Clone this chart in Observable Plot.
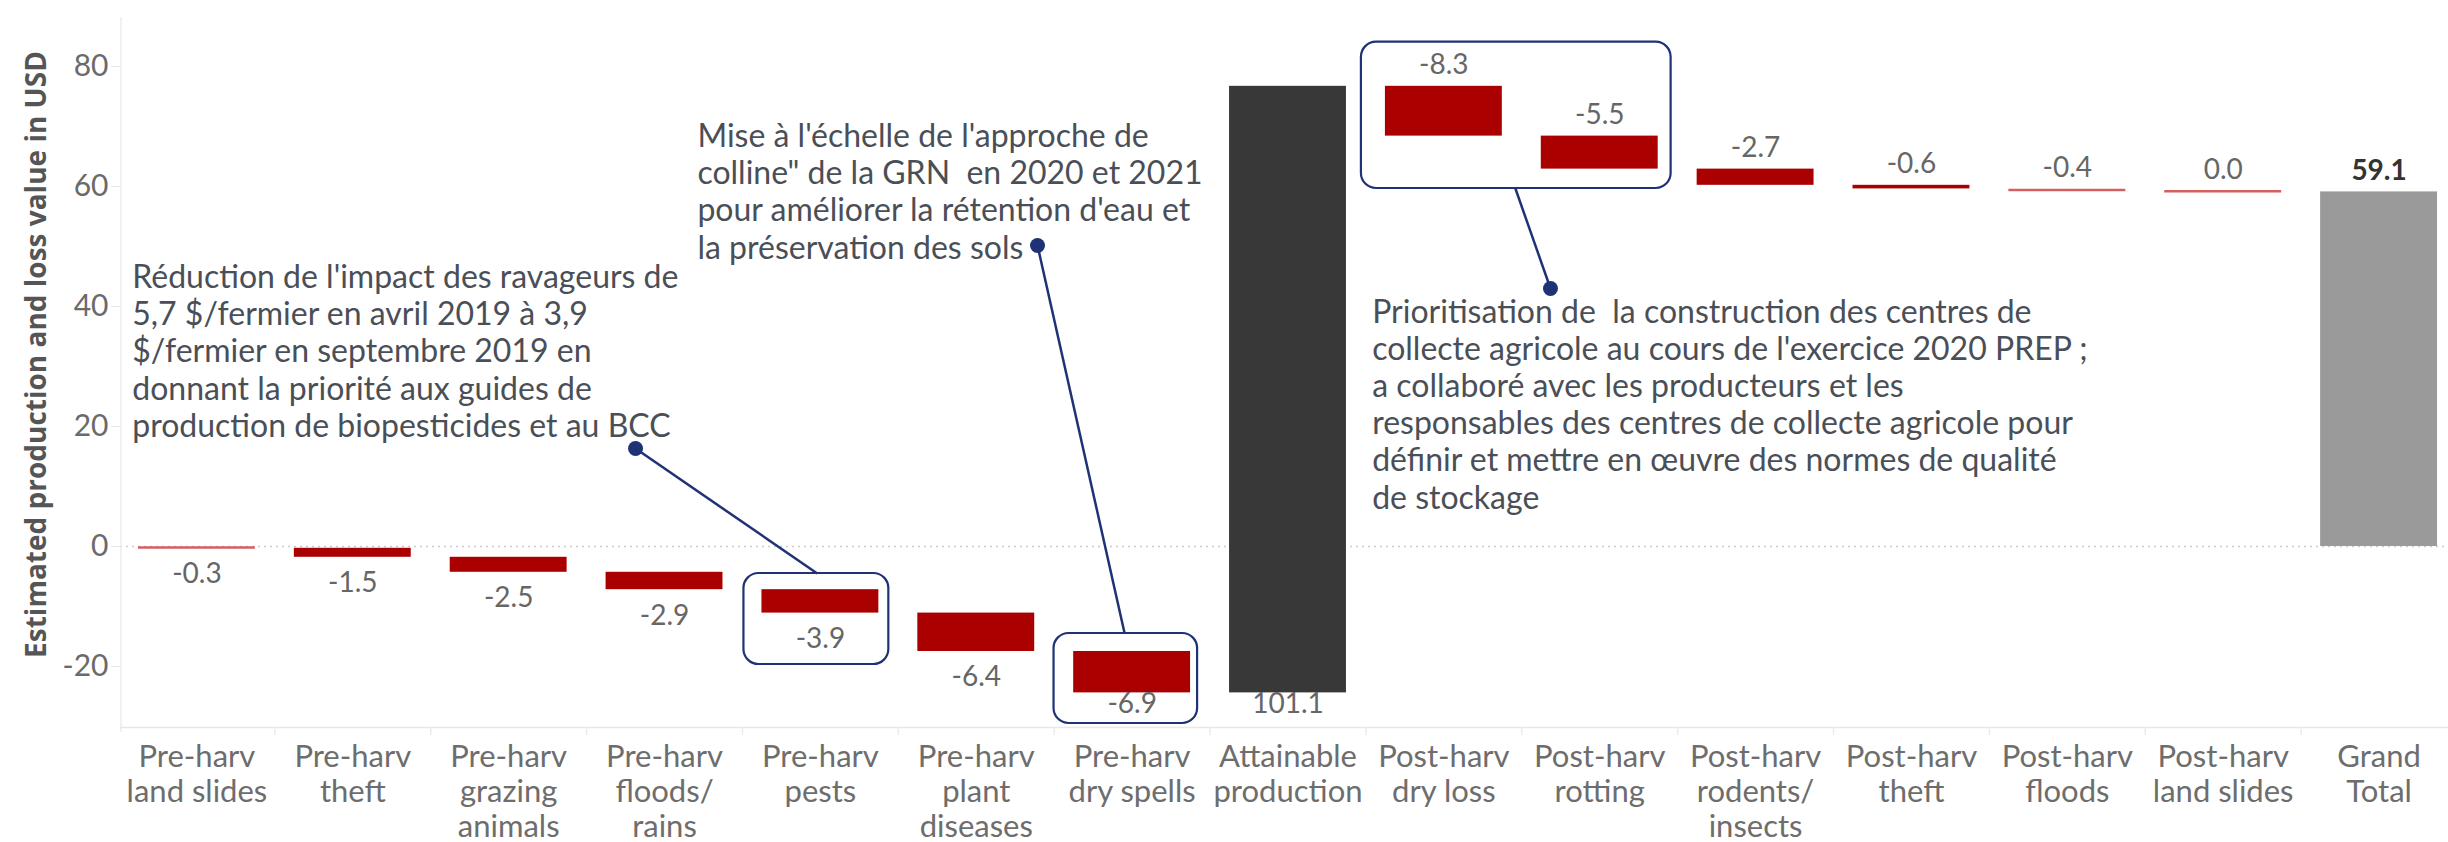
<!DOCTYPE html>
<html>
<head>
<meta charset="utf-8">
<script src="https://cdn.jsdelivr.net/npm/d3@7"></script>
<script src="https://cdn.jsdelivr.net/npm/@observablehq/plot@0.6"></script>
<style>
  html, body { margin: 0; padding: 0; background: #ffffff; }
  #chart svg { display: block; }
</style>
</head>
<body>
<div id="chart"></div>
<script>
// ---------------- data ----------------
const categories = [
  "Pre-harv\nland slides",
  "Pre-harv\ntheft",
  "Pre-harv\ngrazing\nanimals",
  "Pre-harv\nfloods/\nrains",
  "Pre-harv\npests",
  "Pre-harv\nplant\ndiseases",
  "Pre-harv\ndry spells",
  "Attainable\nproduction",
  "Post-harv\ndry loss",
  "Post-harv\nrotting",
  "Post-harv\nrodents/\ninsects",
  "Post-harv\ntheft",
  "Post-harv\nfloods",
  "Post-harv\nland slides",
  "Grand\nTotal"
];
const values = [-0.3, -1.5, -2.5, -2.9, -3.9, -6.4, -6.9, 101.1, -8.3, -5.5, -2.7, -0.6, -0.4, 0.0, 59.1];
const kinds  = ["loss","loss","loss","loss","loss","loss","loss","total","loss","loss","loss","loss","loss","loss","grand"];
const yTicks = [-20, 0, 20, 40, 60, 80];
const yTitle = "Estimated production and loss value in USD";

const noteTexts = [
  "Réduction de l'impact des ravageurs de\n5,7 $/fermier en avril 2019 à 3,9\n$/fermier en septembre 2019 en\ndonnant la priorité aux guides de\nproduction de biopesticides et au BCC",
  "Mise à l'échelle de l'approche de\ncolline\" de la GRN\u00a0 en 2020 et 2021\npour améliorer la rétention d'eau et\nla préservation des sols",
  "Prioritisation de\u00a0 la construction des centres de\ncollecte agricole au cours de l'exercice 2020 PREP ;\na collaboré avec les producteurs et les\nresponsables des centres de collecte agricole pour\ndéfinir et mettre en œuvre des normes de qualité\nde stockage"
];

// ---------------- annotation anchors (data space: x = category index, y = USD) ----------------
const noteAnchors = [[-0.415, 18.3], [3.211, 48.0], [7.54, 6.33]];
const calloutBoxes = [
  {x1: 3.5095, x2: 4.439, y1: -4.5,  y2: -19.67},
  {x1: 5.499,  x2: 6.42,  y1: -14.5, y2: -29.5},
  {x1: 7.471,  x2: 9.458, y1: 84.05, y2: 59.67}
];
const connectors = [
  {x1: 2.814, y1: 16.33, x2: 3.98,  y2: -4.5},
  {x1: 5.393, y1: 50.17, x2: 5.952, y2: -14.5},
  {x1: 8.684, y1: 43.0,  x2: 8.459, y2: 59.67}
];

// ---------------- layout / style ----------------
const W = 2448, H = 842;
const yDomain = [-30.17, 88.17];
const xRange = [118.5, 2456.5];
const half = 0.375;                 // half bar width in category units
const navy = "#1e3275";
const red = "#aa0000", redThin = "#d45f5f";
const labelGray = "#666666";
const font = "Lato, 'Open Sans', sans-serif";

// ---------------- waterfall ----------------
let run = 0;
const attIdx = kinds.indexOf("total");
const bars = categories.map((c, i) => {
  const v = values[i], k = kinds[i];
  let lo, hi;
  if (k === "grand") { lo = Math.min(0, v); hi = Math.max(0, v); }
  else { const s = run; run += v; lo = Math.min(s, run); hi = Math.max(s, run); }
  return {i, c, v, k, lo, hi, below: i <= attIdx};
});
const fmt = v => v.toFixed(1);
const seps = categories.slice(1).map((_, i) => i + 0.5);

const chart = Plot.plot({
  width: W,
  height: H,
  marginLeft: 120,
  marginRight: 0,
  marginTop: 17,
  marginBottom: 115,
  x: {type: "linear", domain: [-0.5, categories.length - 0.5], range: xRange, axis: null},
  y: {domain: yDomain, label: null},
  style: {fontFamily: font, background: "#ffffff", overflow: "visible"},
  marks: [
    // zero line
    Plot.ruleY([0], {stroke: "#cccccc", strokeWidth: 1.5, strokeDasharray: "2,4"}),
    // frame lines
    Plot.ruleX([-0.5], {dx: 2, stroke: "#ececec", strokeWidth: 1.5, insetBottom: -5}),
    Plot.ruleY([yDomain[0]], {stroke: "#e8e8e8", strokeWidth: 1.5}),
    Plot.ruleX(seps, {x: d => d, y1: yDomain[0], y2: yDomain[0], insetBottom: -8, stroke: "#ececec", strokeWidth: 1.5}),
    // y axis
    Plot.axisY({ticks: yTicks, tickSize: 9, tickPadding: 3, stroke: "#e8e8e8", color: "#6a6a6a",
      fontSize: 30, tickFormat: d => String(d), label: null}),
    // bars
    Plot.rectY(bars.filter(d => d.k === "loss" && Math.abs(d.v) >= 0.5), {
      x1: d => d.i - half, x2: d => d.i + half, y1: "lo", y2: "hi", fill: red}),
    Plot.ruleY(bars.filter(d => d.k === "loss" && Math.abs(d.v) < 0.5), {
      x1: d => d.i - half, x2: d => d.i + half, y: d => (d.lo + d.hi) / 2, stroke: redThin, strokeWidth: 2.5}),
    Plot.rectY(bars.filter(d => d.k === "total"), {
      x1: d => d.i - half, x2: d => d.i + half, y1: "lo", y2: "hi", fill: "#383838"}),
    Plot.rectY(bars.filter(d => d.k === "grand"), {
      x1: d => d.i - half, x2: d => d.i + half, y1: "lo", y2: "hi", fill: "#9a9a9a"}),
    // value labels below bars (clamped inside the pane)
    Plot.text(bars.filter(d => d.below), {
      x: "i", y: d => Math.max(d.lo, -22), dy: 15, text: d => fmt(d.v),
      lineAnchor: "top", fontSize: 28, fill: labelGray}),
    // value labels above bars
    Plot.text(bars.filter(d => !d.below && d.k !== "grand"), {
      x: "i", y: "hi", dy: -12, text: d => fmt(d.v),
      lineAnchor: "bottom", fontSize: 28, fill: labelGray}),
    Plot.text(bars.filter(d => d.k === "grand"), {
      x: "i", y: "hi", dy: -12, text: d => fmt(d.v),
      lineAnchor: "bottom", fontSize: 28, fontWeight: "bold", fill: "#333333"}),
    // category labels
    Plot.text(categories, {
      x: (d, i) => i, frameAnchor: "bottom", dy: 15, text: d => d,
      lineAnchor: "top", lineHeight: 1.12, fontSize: 31, fill: "#6d6d6d"}),
    // y title
    Plot.text([yTitle], {
      y: () => 32, frameAnchor: "left", dx: 36.9 - 120, rotate: -90, text: d => d,
      textAnchor: "middle", lineAnchor: "middle",
      fontFamily: "'Open Sans', sans-serif", fontSize: 28, fontWeight: "bold", fill: "#555555"}),
    // callouts
    Plot.rect(calloutBoxes, {x1: "x1", x2: "x2", y1: "y1", y2: "y2",
      fill: "none", stroke: navy, strokeWidth: 2.2, rx: 15}),
    Plot.link(connectors, {x1: "x1", y1: "y1", x2: "x2", y2: "y2", stroke: navy, strokeWidth: 2.5}),
    Plot.dot(connectors, {x: "x1", y: "y1", r: 7.5, fill: navy, stroke: "none"}),
    Plot.text(noteTexts, {
      x: (d, i) => noteAnchors[i][0], y: (d, i) => noteAnchors[i][1], text: d => d,
      textAnchor: "start", lineAnchor: "bottom", lineHeight: 1.16, fontSize: 32, fill: "#4a4f57"})
  ]
});
document.getElementById("chart").appendChild(chart);
</script>
</body>
</html>
